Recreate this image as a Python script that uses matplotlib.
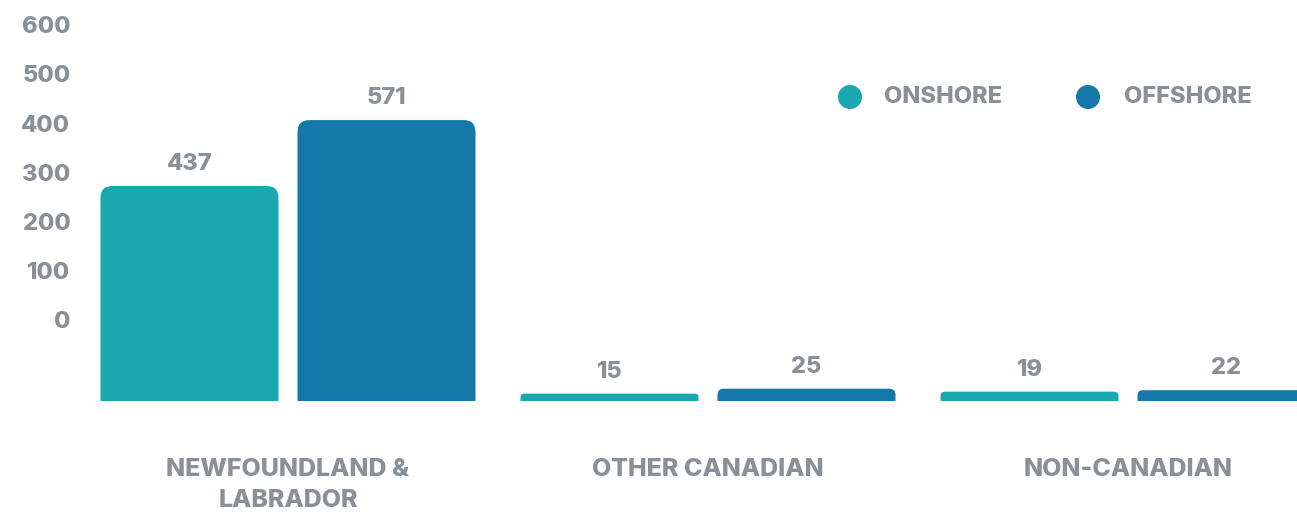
import matplotlib.pyplot as plt
from matplotlib.patches import FancyBboxPatch
import numpy as np

categories = ['NEWFOUNDLAND &\nLABRADOR', 'OTHER CANADIAN', 'NON-CANADIAN']
onshore = [437, 15, 19]
offshore = [571, 25, 22]
series_names = ['ONSHORE', 'OFFSHORE']
tick_labels = ['0', '100', '200', '300', '400', '500', '600']

teal = '#19a8b0'
blue = '#1479a8'
grey = '#8a9097'

plt.rcParams['font.family'] = ['Inter', 'DejaVu Sans']
fs = 17
fw = 800

W, H = 1297, 512
fig = plt.figure(figsize=(W / 100, H / 100), dpi=100)
# axes: left edge at 80px, bottom (baseline) at 401px from top
left_px, base_px = 80, 401
ax = fig.add_axes([left_px / W, (H - base_px) / H, 1 - left_px / W, base_px / H])

px_per_group = 420.0
px_per_unit = 0.492
first_center = 288
ax.set_xlim((left_px - first_center) / px_per_group, (W - first_center) / px_per_group)
ax.set_ylim(0, base_px / px_per_unit)

x = np.arange(len(categories))
bw = 178 / px_per_group
gap = 19 / px_per_group
off = (bw + gap) / 2

bars1 = ax.bar(x - off, onshore, bw, color=teal)
bars2 = ax.bar(x + off, offshore, bw, color=blue)

# swap plain bars for ones with rounded top corners
aspect = px_per_group / px_per_unit
for bars in (bars1, bars2):
    for b in bars:
        b.set_visible(False)
        h = b.get_height()
        r_px = min(12, 0.5 * h * px_per_unit)
        r = r_px / px_per_group
        ext = 2 * r_px / px_per_unit
        p = FancyBboxPatch((b.get_x(), -ext), b.get_width(), h + ext,
                           boxstyle=f'round,pad=0,rounding_size={r}',
                           mutation_aspect=aspect, facecolor=b.get_facecolor(),
                           edgecolor='none', clip_on=True)
        ax.add_patch(p)
        ax.annotate(f'{int(h)}', (b.get_x() + b.get_width() / 2, h),
                    xytext=(0, 8), textcoords='offset points',
                    ha='center', va='bottom', color=grey, fontsize=fs,
                    fontweight=fw)

# y tick labels sit above the bar baseline, as in the original
tick_offset = 165
ax.set_yticks(np.arange(0, 700, 100) + tick_offset)
ax.set_yticklabels(tick_labels)
ax.set_xticks(x)
ax.set_xticklabels(categories, linespacing=1.45)
ax.tick_params(axis='y', length=0, pad=7, labelcolor=grey, labelsize=fs)
ax.tick_params(axis='x', length=0, pad=41, labelcolor=grey, labelsize=18)
for lbl in ax.get_xticklabels() + ax.get_yticklabels():
    lbl.set_fontweight(fw)
for s in ax.spines.values():
    s.set_visible(False)

# legend
for name, col, cx, tx in [(series_names[0], teal, 850, 884), (series_names[1], blue, 1088, 1124)]:
    ax.scatter([cx / W], [1 - 97 / H], s=300, color=col, edgecolors='none',
               transform=fig.transFigure, clip_on=False)
    fig.text(tx / W, 1 - 97 / H, name, ha='left', va='center', color=grey,
             fontsize=fs, fontweight=fw)

fig.savefig('out.png', dpi=100)
